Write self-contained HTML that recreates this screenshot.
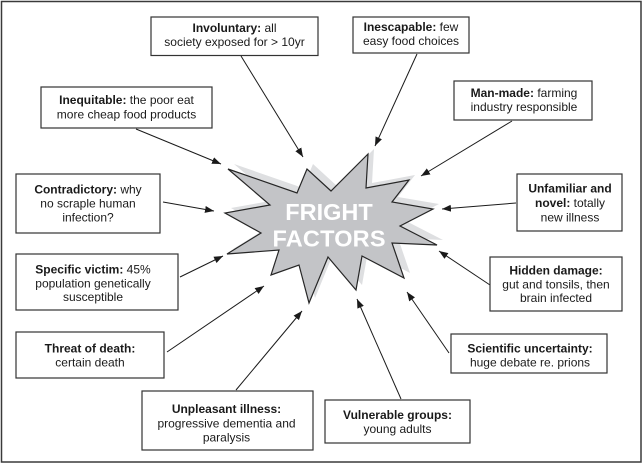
<!DOCTYPE html>
<html><head><meta charset="utf-8"><style>
html,body{margin:0;padding:0;background:#fff;}
svg{display:block;}
text{font-family:"Liberation Sans",Arial,sans-serif;fill:#1a1a1a;}
.t{font-size:12px;text-anchor:middle;}
.b{font-weight:bold;}
</style></head><body>
<svg width="643" height="464" viewBox="0 0 643 464" xmlns="http://www.w3.org/2000/svg">
<defs>
<marker id="ah" markerUnits="userSpaceOnUse" markerWidth="10" markerHeight="8" refX="9" refY="3.5" orient="auto">
<path d="M0,0 L9,3.5 L0,7 z" fill="#1a1a1a"/>
</marker>
</defs>
<rect x="0" y="0" width="643" height="464" fill="#fff"/>
<rect x="1.5" y="1.5" width="639.5" height="460.5" fill="none" stroke="#3a3a3a" stroke-width="1.5"/>

<!-- star shadow -->
<polygon transform="translate(6,-5)" fill="#dedfe1" points="228,169 297,193 307,169 331,191 368,154 366,188 409,180 392,202 433,209 400,226 437,245 392,243 404,278 362,256 356,290 328,257 309,303 299,265 271,275 279,250 227,254 261,233 225,213 270,205"/>
<!-- star -->
<polygon fill="#c3c4c7" stroke="#262626" stroke-width="1.2" stroke-linejoin="miter" points="228,169 297,193 307,169 331,191 368,154 366,188 409,180 392,202 433,209 400,226 437,245 392,243 404,278 362,256 356,290 328,257 309,303 299,265 271,275 279,250 227,254 261,233 225,213 270,205"/>
<text x="329" y="220" text-anchor="middle" style="font-size:23.5px;font-weight:bold;fill:#fff">FRIGHT</text>
<text x="329" y="246.5" text-anchor="middle" style="font-size:23.5px;font-weight:bold;fill:#fff" textLength="113">FACTORS</text>

<!-- arrows -->
<g stroke="#1a1a1a" stroke-width="1" fill="none" marker-end="url(#ah)">
<line x1="241" y1="56" x2="303" y2="157"/>
<line x1="417" y1="54" x2="375" y2="146"/>
<line x1="512" y1="121" x2="421" y2="176"/>
<line x1="136" y1="129" x2="221" y2="164"/>
<line x1="163" y1="202" x2="214" y2="211"/>
<line x1="180" y1="277" x2="223" y2="256"/>
<line x1="167" y1="352" x2="264" y2="286"/>
<line x1="236" y1="390" x2="302" y2="311"/>
<line x1="401" y1="399" x2="357" y2="299"/>
<line x1="449" y1="353" x2="407" y2="292"/>
<line x1="490" y1="285" x2="439" y2="251"/>
<line x1="516" y1="203" x2="442" y2="209"/>
</g>

<!-- boxes -->
<g fill="#fff" stroke="#333" stroke-width="1.2">
<rect x="151" y="17" width="167" height="38.5"/>
<rect x="353" y="17" width="116" height="36"/>
<rect x="454" y="81" width="138" height="39"/>
<rect x="41" y="87" width="171" height="41"/>
<rect x="16" y="174" width="144" height="59"/>
<rect x="16" y="254" width="162" height="56"/>
<rect x="16" y="332" width="148" height="46"/>
<rect x="142" y="391" width="171" height="59"/>
<rect x="325" y="400" width="145" height="43"/>
<rect x="451" y="334" width="156" height="39"/>
<rect x="490" y="257" width="132" height="54"/>
<rect x="517" y="174" width="105" height="57"/>
</g>

<!-- labels -->
<text class="t" x="234.5" y="32"><tspan class="b">Involuntary:</tspan> all</text>
<text class="t" x="234.5" y="46">society exposed for &gt; 10yr</text>

<text class="t" x="411" y="31"><tspan class="b">Inescapable:</tspan> few</text>
<text class="t" x="411" y="45">easy food choices</text>

<text class="t" x="524" y="97"><tspan class="b">Man-made:</tspan> farming</text>
<text class="t" x="524" y="111">industry responsible</text>

<text class="t" x="126.5" y="104"><tspan class="b">Inequitable:</tspan> the poor eat</text>
<text class="t" x="126.5" y="118.5">more cheap food products</text>

<text class="t" x="88" y="193.5"><tspan class="b">Contradictory:</tspan> why</text>
<text class="t" x="88" y="207.5">no scraple human</text>
<text class="t" x="88" y="221.5">infection?</text>

<text class="t" x="93" y="273.5"><tspan class="b">Specific victim:</tspan> 45%</text>
<text class="t" x="93" y="287.5">population genetically</text>
<text class="t" x="93" y="301">susceptible</text>

<text class="t" x="90" y="352.5"><tspan class="b">Threat of death:</tspan></text>
<text class="t" x="90" y="366.5">certain death</text>

<text class="t" x="226.5" y="413"><tspan class="b">Unpleasant illness:</tspan></text>
<text class="t" x="226.5" y="427.5">progressive dementia and</text>
<text class="t" x="226.5" y="441.5">paralysis</text>

<text class="t" x="397.5" y="419"><tspan class="b">Vulnerable groups:</tspan></text>
<text class="t" x="397.5" y="433">young adults</text>

<text class="t" x="530" y="352.5"><tspan class="b">Scientific uncertainty:</tspan></text>
<text class="t" x="530" y="366.5">huge debate re. prions</text>

<text class="t" x="556" y="274.5"><tspan class="b">Hidden damage:</tspan></text>
<text class="t" x="556" y="288.5">gut and tonsils, then</text>
<text class="t" x="556" y="302">brain infected</text>

<text class="t" x="570" y="192.5"><tspan class="b">Unfamiliar and</tspan></text>
<text class="t" x="570" y="207"><tspan class="b">novel:</tspan> totally</text>
<text class="t" x="570" y="221.5">new illness</text>
</svg>
</body></html>
